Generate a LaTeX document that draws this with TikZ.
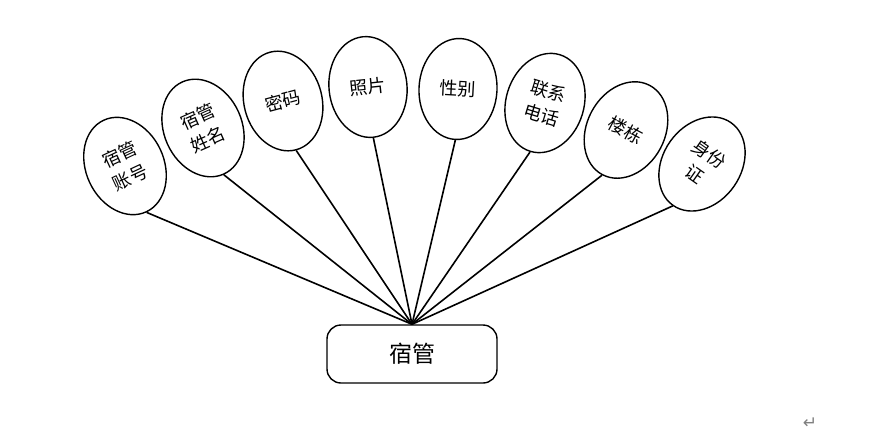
\documentclass[tikz,border=0pt]{standalone}
\usepackage{fontspec}
\setmainfont{Noto Sans CJK SC}
\newfontfamily\symfont{DejaVu Sans}
\usetikzlibrary{shapes.geometric}

\begin{document}
\begin{tikzpicture}[x=1pt,y=-1pt]
	\useasboundingbox (0,0) rectangle (875,440);
	\begin{scope}[
		attr/.style={ellipse,draw,line width=1.4pt,minimum width=78pt,minimum height=101pt,inner sep=0pt,align=center,font=\fontsize{18}{25}\selectfont},
		entity/.style={rectangle,rounded corners=14pt,draw,line width=1.4pt,minimum width=170pt,minimum height=58pt,font=\fontsize{23}{26}\selectfont},
		link/.style={line width=1.6pt}]
		\node [entity]			(S)		at (412,354)	{宿管};
		\node [attr,rotate=25]	(A1)	at (125,166)	{宿管\\账号};
		\node [attr,rotate=24]	(A2)	at (203,128)	{宿管\\姓名};
		\node [attr,rotate=15]	(A3)	at (283,101)	{密码};
		\node [attr,rotate=6]	(A4)	at (368,87)		{照片};
		\node [attr,rotate=-3]	(A5)	at (458,89)		{性别};
		\node [attr,rotate=-17]	(A6)	at (545,103)	{联系\\电话};
		\node [attr,rotate=-28]	(A7)	at (626,130)	{楼栋};
		\node [attr,rotate=-35]	(A8)	at (702,164)	{身份\\证};
		\path [link]
		(S.north) edge (A1.south)
		(S.north) edge (A2.south)
		(S.north) edge (A3.south)
		(S.north) edge (A4.south)
		(S.north) edge (A5.south)
		(S.north) edge (A6.south)
		(S.north) edge (A7.south)
		(S.north) edge (A8.south)
		;
		\node [text=gray,font=\symfont\fontsize{17}{17}\selectfont] (M) at (810,423) {↵};
	\end{scope}
\end{tikzpicture}
\end{document}
